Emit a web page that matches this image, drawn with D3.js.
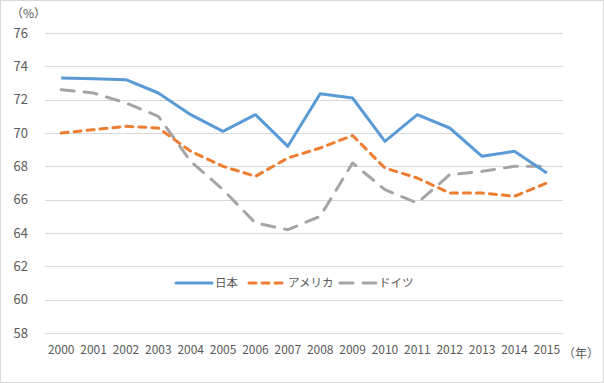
<!DOCTYPE html>
<html>
<head>
<meta charset="utf-8">
<script src="https://cdn.jsdelivr.net/npm/d3@7"></script>
<style>
  body { margin: 0; background: #fff; }
  text { font-family: "Noto Sans CJK JP", "Noto Sans", sans-serif; fill: #595959; }
</style>
</head>
<body>
<div id="chart"></div>
<script>
// data
const years = ["2000", "2001", "2002", "2003", "2004", "2005", "2006", "2007",
               "2008", "2009", "2010", "2011", "2012", "2013", "2014", "2015"];
const japan   = [73.3, 73.25, 73.2, 72.4, 71.1, 70.1, 71.1, 69.2, 72.35, 72.1, 69.5, 71.1, 70.3, 68.6, 68.9, 67.6];
const america = [70.0, 70.2, 70.4, 70.3, 68.9, 68.0, 67.4, 68.5, 69.1, 69.85, 67.9, 67.3, 66.4, 66.4, 66.2, 67.0];
const germany = [72.6, 72.4, 71.8, 71.0, 68.3, 66.6, 64.6, 64.2, 65.0, 68.2, 66.6, 65.8, 67.5, 67.7, 68.0, 68.0];
const yTicks = [58, 60, 62, 64, 66, 68, 70, 72, 74, 76];

const series = [
    {name: "日本", values: japan, color: "#5B9BD5", dash: null},
    {name: "アメリカ", values: america, color: "#ED7D31", dash: "7,6"},
    {name: "ドイツ", values: germany, color: "#A5A5A5", dash: "13,10"}
];

const W = 604, H = 383;
const margin = {top: 33, right: 41, bottom: 50, left: 45},
    width = W - margin.left - margin.right,
    height = H - margin.top - margin.bottom;

const root = d3.select("#chart").append("svg")
    .attr("width", W)
    .attr("height", H);

root.append("rect")
    .attr("x", 0.5).attr("y", 0.5)
    .attr("width", W - 1).attr("height", H - 1)
    .attr("fill", "#fff")
    .attr("stroke", "#D9D9D9");

const svg = root.append("g")
    .attr("transform", `translate(${margin.left},${margin.top})`);

const x = d3.scaleBand()
    .domain(years)
    .range([0, width]);

const y = d3.scaleLinear()
    .domain([58, 76])
    .range([height, 0]);

// gridlines
svg.selectAll(".grid")
    .data(yTicks)
    .enter().append("line")
    .attr("class", "grid")
    .attr("x1", 0)
    .attr("x2", width)
    .attr("y1", d => Math.round(y(d)) + 0.5)
    .attr("y2", d => Math.round(y(d)) + 0.5)
    .attr("stroke", "#D9D9D9")
    .attr("stroke-width", 1);

// y axis labels
const yAxis = svg.append("g")
    .attr("transform", "translate(-17,0)")
    .call(d3.axisLeft(y).tickValues(yTicks).tickSize(0).tickPadding(0));
yAxis.select(".domain").remove();
yAxis.selectAll("text")
    .style("font-size", "13px")
    .attr("fill", "#595959");

// x axis labels
const xAxis = svg.append("g")
    .attr("transform", `translate(0,${height + 12})`)
    .call(d3.axisBottom(x).tickSize(0).tickPadding(0));
xAxis.select(".domain").remove();
xAxis.selectAll("text")
    .style("font-size", "12px")
    .attr("fill", "#595959");

root.append("text")
    .attr("x", 11)
    .attr("y", 18)
    .style("font-size", "12px")
    .text("（%）");

root.append("text")
    .attr("x", 563)
    .attr("y", 358)
    .style("font-size", "12px")
    .text("（年）");

const line = d3.line()
    .x((d, i) => x(years[i]) + x.bandwidth() / 2)
    .y(d => y(d));

// draw grey first, then orange, then blue on top
series.slice().reverse().forEach(s => {
    svg.append("path")
        .datum(s.values)
        .attr("fill", "none")
        .attr("stroke", s.color)
        .attr("stroke-width", 3)
        .attr("stroke-linejoin", "round")
        .attr("stroke-linecap", s.dash ? "round" : "butt")
        .attr("stroke-dasharray", s.dash)
        .attr("d", line);
});

// legend
const legendX = [176, 249, 340];
const legend = root.append("g")
    .attr("transform", "translate(0,283)");

series.forEach((s, i) => {
    legend.append("line")
        .attr("x1", legendX[i])
        .attr("x2", legendX[i] + 36)
        .attr("y1", 0)
        .attr("y2", 0)
        .attr("stroke", s.color)
        .attr("stroke-width", 3)
        .attr("stroke-linecap", "round")
        .attr("stroke-dasharray", s.dash);
    legend.append("text")
        .attr("x", legendX[i] + 39)
        .attr("y", 0)
        .attr("dy", "0.35em")
        .style("font-size", "11.5px")
        .text(s.name);
});
</script>
</body>
</html>
